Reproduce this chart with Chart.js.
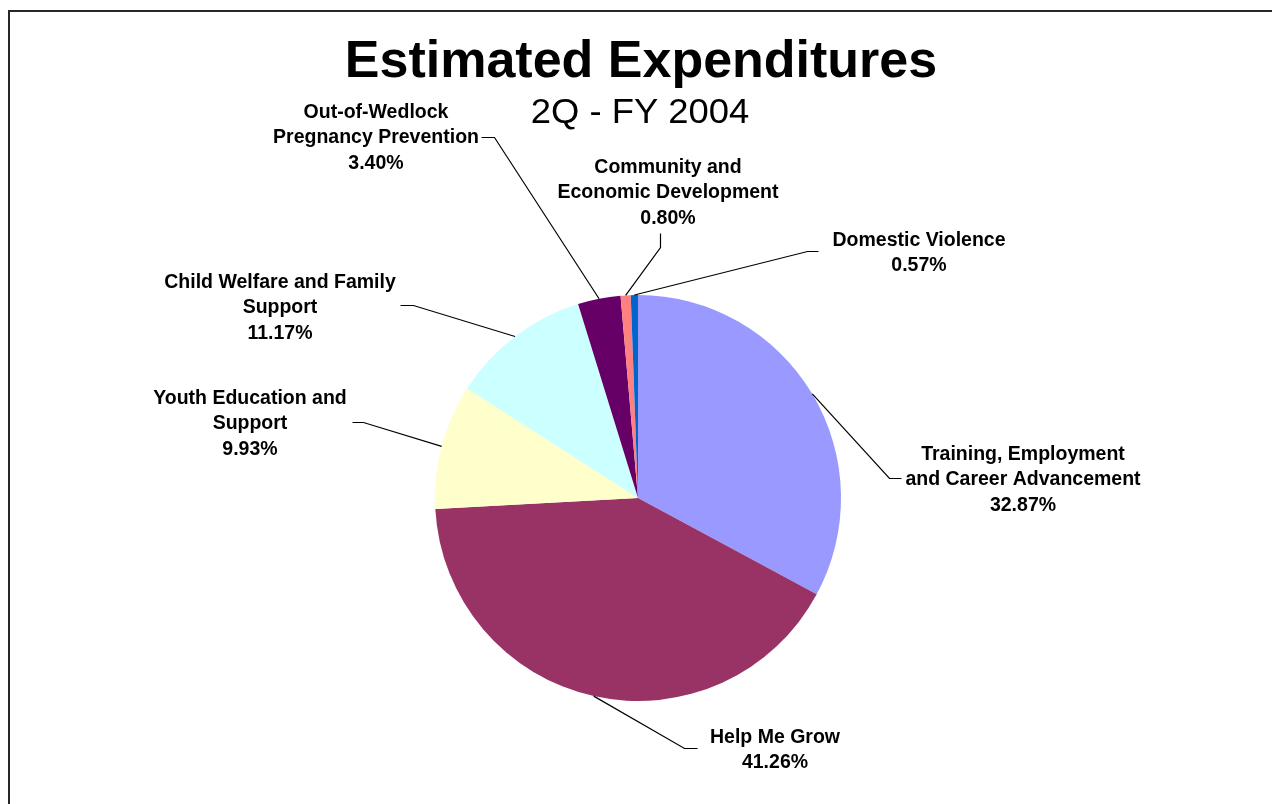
<!DOCTYPE html>
<html>
<head>
<meta charset="utf-8">
<script src="https://cdn.jsdelivr.net/npm/chart.js@4/dist/chart.umd.min.js"></script>
<style>
  html, body { margin: 0; padding: 0; background: #fff; }
  #wrap { width: 1272px; height: 804px; position: relative; }
</style>
</head>
<body>
<div id="wrap"><canvas id="c" width="1272" height="804"></canvas></div>
<script>
// ---- data ----
const categories = [
  "Training, Employment and Career Advancement",
  "Help Me Grow",
  "Youth Education and Support",
  "Child Welfare and Family Support",
  "Out-of-Wedlock Pregnancy Prevention",
  "Community and Economic Development",
  "Domestic Violence"
];
const percentValues = [32.87, 41.26, 9.93, 11.17, 3.40, 0.80, 0.57];
const labelLines = [
  ["Training, Employment", "and Career Advancement"],
  ["Help Me Grow"],
  ["Youth Education and", "Support"],
  ["Child Welfare and Family", "Support"],
  ["Out-of-Wedlock", "Pregnancy Prevention"],
  ["Community and", "Economic Development"],
  ["Domestic Violence"]
];
const sliceColors = ["#9999FF", "#993366", "#FFFFCC", "#CCFFFF", "#660066", "#FF8080", "#0066CC"];
const titleText = "Estimated Expenditures";
const subtitleText = "2Q - FY 2004";

// ---- label layout (text centre x, first line centre y, elbow, end of leader) ----
const labelLayout = [
  { cx: 1023, y0: 453, elbow: [889, 478], end: [901, 478] },
  { cx: 775,  y0: 736, elbow: [684, 748], end: [697, 748] },
  { cx: 250,  y0: 397, elbow: [363, 422], end: [352, 422] },
  { cx: 280,  y0: 281, elbow: [413, 305], end: [400, 305] },
  { cx: 376,  y0: 111, elbow: [494, 137], end: [481, 137] },
  { cx: 668,  y0: 166, elbow: [660, 247], end: [660, 233] },
  { cx: 919,  y0: 239, elbow: [807, 251], end: [818, 251] }
];

const FONT = '"Liberation Sans", Arial, Helvetica, sans-serif';
const LABEL_SIZE = 19.5;
const LINE_H = 25.3;

const decorPlugin = {
  id: 'decor',
  afterDraw(chart) {
    const ctx = chart.ctx;
    ctx.save();
    // frame
    ctx.strokeStyle = '#262626';
    ctx.lineWidth = 2;
    ctx.strokeRect(9, 11, 1300, 850);

    // title
    ctx.fillStyle = '#000';
    ctx.textAlign = 'center';
    ctx.textBaseline = 'alphabetic';
    ctx.font = 'bold 52px ' + FONT;
    ctx.fillText(titleText, 641, 77);

    // subtitle
    ctx.save();
    ctx.translate(640, 123);
    ctx.scale(1.04, 1);
    ctx.font = '35px ' + FONT;
    ctx.fillText(subtitleText, 0, 0);
    ctx.restore();

    // labels & leader lines
    const meta = chart.getDatasetMeta(0);
    meta.data.forEach((arc, i) => {
      const L = labelLayout[i];
      const p = arc.getProps(['x', 'y', 'startAngle', 'endAngle', 'outerRadius'], true);
      const mid = (p.startAngle + p.endAngle) / 2;
      const sx = p.x + Math.cos(mid) * p.outerRadius;
      const sy = p.y + Math.sin(mid) * p.outerRadius;
      ctx.strokeStyle = '#000';
      ctx.lineWidth = 1.2;
      ctx.beginPath();
      ctx.moveTo(sx, sy);
      ctx.lineTo(L.elbow[0] + 0.5, L.elbow[1] + 0.5);
      ctx.lineTo(L.end[0] + 0.5, L.end[1] + 0.5);
      ctx.stroke();

      const lines = labelLines[i].concat([percentValues[i].toFixed(2) + '%']);
      ctx.font = 'bold ' + LABEL_SIZE + 'px ' + FONT;
      ctx.fillStyle = '#000';
      ctx.textAlign = 'center';
      ctx.textBaseline = 'alphabetic';
      lines.forEach((t, k) => {
        ctx.fillText(t, L.cx, L.y0 + k * LINE_H + 0.36 * LABEL_SIZE);
      });
    });
    ctx.restore();
  }
};

new Chart(document.getElementById('c'), {
  type: 'pie',
  data: {
    labels: categories,
    datasets: [{
      data: percentValues,
      backgroundColor: sliceColors,
      borderWidth: 0,
      offset: 0,
      hoverOffset: 0
    }]
  },
  options: {
    responsive: false,
    devicePixelRatio: 1,
    animation: false,
    rotation: 0,
    layout: { padding: { top: 295, bottom: 103, left: 4, right: 0 } },
    plugins: {
      legend: { display: false },
      tooltip: { enabled: false },
      title: { display: false }
    }
  },
  plugins: [decorPlugin]
});
</script>
</body>
</html>
